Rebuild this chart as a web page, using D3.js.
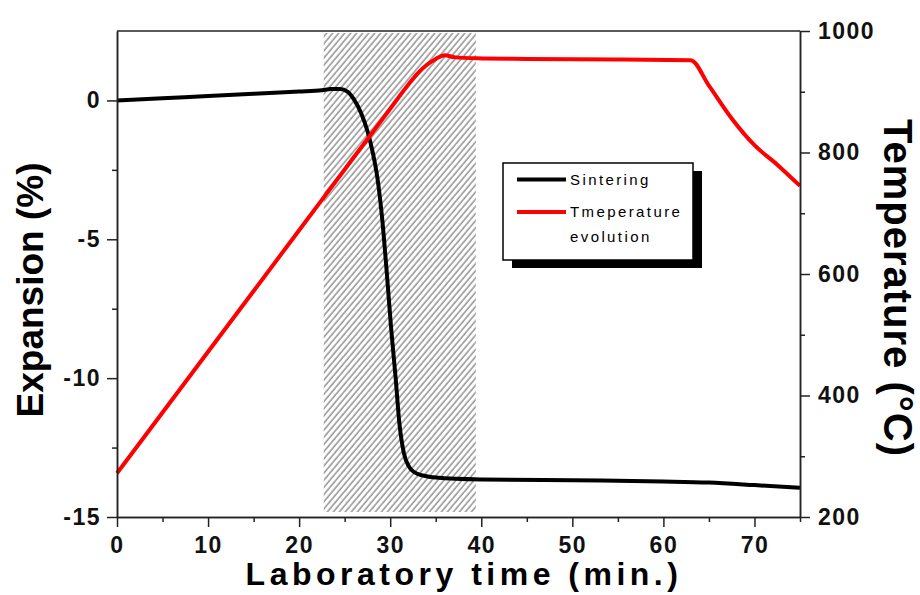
<!DOCTYPE html>
<html>
<head>
<meta charset="utf-8">
<script src="https://cdn.jsdelivr.net/npm/d3@7"></script>
<style>
body{margin:0;background:#fff;}
text{font-family:"Liberation Sans",Arial,sans-serif;}
</style>
</head>
<body>
<svg width="920" height="595"></svg>
<script>
// sintering curve (expansion %)
var expTime = [0, 5, 10, 15, 20, 22.5, 23.5, 24.5, 25.3, 26, 26.8, 27.5, 28.1, 28.6, 29.1, 29.6, 30.1, 30.6, 31, 31.5, 32, 33, 35, 40, 50, 60, 65, 70, 75];
var expVal = [0, 0.08, 0.16, 0.24, 0.32, 0.37, 0.41, 0.41, 0.32, 0.05, -0.45, -1.1, -1.9, -2.8, -4.2, -6.1, -8.2, -10, -11.6, -12.7, -13.15, -13.45, -13.58, -13.65, -13.68, -13.72, -13.76, -13.85, -13.95];
// temperature evolution (°C)
var tempTime = [0, 10, 20, 25, 30, 32, 33, 34, 35, 36, 37, 39.5, 45, 55, 63, 65, 67.5, 70, 72.5, 75];
var tempVal = [272, 472, 672, 772, 872, 912, 930, 944, 954, 960, 957, 955, 954, 953, 952, 910, 856, 812, 780, 745];
// hatched sintering window (min)
var hatchRange = [22.7, 39.4];

var xTicks = [0, 10, 20, 30, 40, 50, 60, 70];
var xMinor = [5, 15, 25, 35, 45, 55, 65, 75];
var yLTicks = [-15, -10, -5, 0];
var yLMinor = [-12.5, -7.5, -2.5];
var yRTicks = [200, 400, 600, 800, 1000];
var yRMinor = [300, 500, 700, 900];

var margin = {left:117, top:31};
var width = 683;
var height = 486;

var svg = d3.select('svg');

var x = d3.scaleLinear().domain([0, 75]).range([0, width]);
var yL = d3.scaleLinear().domain([-15, 2.5]).range([height, 0]);
var yR = d3.scaleLinear().domain([200, 1000]).range([height, 0]);

var plain = function(d){ return String(d); };

var defs = svg.append('defs');
var pat = defs.append('pattern')
  .attr('id', 'hatch')
  .attr('patternUnits', 'userSpaceOnUse')
  .attr('width', 4.6)
  .attr('height', 10)
  .attr('patternTransform', 'rotate(40)');
pat.append('line')
  .attr('x1', 1).attr('y1', 0).attr('x2', 1).attr('y2', 10)
  .attr('stroke', '#444').attr('stroke-width', 0.9);

var g = svg.append('g').attr('transform', 'translate(' + margin.left + ',' + margin.top + ')');

g.append('rect')
  .attr('x', x(hatchRange[0]))
  .attr('y', 2)
  .attr('width', x(hatchRange[1]) - x(hatchRange[0]))
  .attr('height', height - 7)
  .attr('fill', 'url(#hatch)');

var lineExp = d3.line()
  .x(function(d, i){ return x(expTime[i]); })
  .y(function(d){ return yL(d); })
  .curve(d3.curveMonotoneX);

var lineTemp = d3.line()
  .x(function(d, i){ return x(tempTime[i]); })
  .y(function(d){ return yR(d); })
  .curve(d3.curveMonotoneX);

g.append('path')
  .attr('d', lineExp(expVal))
  .attr('fill', 'none')
  .attr('stroke', '#000')
  .attr('stroke-width', 4);

g.append('path')
  .attr('d', lineTemp(tempVal))
  .attr('fill', 'none')
  .attr('stroke', '#ff0000')
  .attr('stroke-width', 4);

function styleAxis(sel){
  sel.selectAll('path,line').attr('stroke', '#222').attr('stroke-width', 1.5);
  sel.selectAll('text')
    .attr('fill', '#111')
    .style('font-size', '23px')
    .style('font-weight', 'bold')
    .style('letter-spacing', '1.5px');
}

// bottom axis
g.append('g')
  .attr('transform', 'translate(0,' + height + ')')
  .call(d3.axisBottom(x).tickValues(xMinor).tickSize(5).tickFormat('').tickSizeOuter(0))
  .call(styleAxis);
g.append('g')
  .attr('transform', 'translate(0,' + height + ')')
  .call(d3.axisBottom(x).tickValues(xTicks).tickSize(10).tickPadding(10).tickFormat(plain).tickSizeOuter(0))
  .call(styleAxis);

// left axis
g.append('g')
  .call(d3.axisLeft(yL).tickValues(yLMinor).tickSize(5).tickFormat('').tickSizeOuter(0))
  .call(styleAxis);
g.append('g')
  .call(d3.axisLeft(yL).tickValues(yLTicks).tickSize(10).tickPadding(6).tickFormat(plain).tickSizeOuter(0))
  .call(styleAxis);

// right axis
g.append('g')
  .attr('transform', 'translate(' + width + ',0)')
  .call(d3.axisRight(yR).tickValues(yRMinor).tickSize(5).tickFormat('').tickSizeOuter(0))
  .call(styleAxis);
g.append('g')
  .attr('transform', 'translate(' + width + ',0)')
  .call(d3.axisRight(yR).tickValues(yRTicks).tickSize(10).tickPadding(8).tickFormat(plain).tickSizeOuter(0))
  .call(styleAxis);

// top frame
g.append('line')
  .attr('x1', 0).attr('x2', width).attr('y1', 0).attr('y2', 0)
  .attr('stroke', '#222').attr('stroke-width', 1.5);

// axis titles
svg.append('text')
  .attr('transform', 'translate(43,290) rotate(-90)')
  .attr('text-anchor', 'middle')
  .style('font-size', '37px')
  .style('font-weight', 'bold')
  .text('Expansion (%)');

svg.append('text')
  .attr('transform', 'translate(884,288) rotate(90)')
  .attr('text-anchor', 'middle')
  .style('font-size', '40px')
  .style('font-weight', 'bold')
  .style('letter-spacing', '1px')
  .text('Temperature (°C)');

svg.append('text')
  .attr('x', 464)
  .attr('y', 585)
  .attr('text-anchor', 'middle')
  .style('font-size', '32px')
  .style('font-weight', 'bold')
  .style('letter-spacing', '4.5px')
  .text('Laboratory time (min.)');

// legend
var leg = svg.append('g');
leg.append('rect')
  .attr('x', 512).attr('y', 171).attr('width', 190).attr('height', 97)
  .attr('fill', '#000');
leg.append('rect')
  .attr('x', 503).attr('y', 163).attr('width', 190).attr('height', 97)
  .attr('fill', '#fff').attr('stroke', '#000').attr('stroke-width', 1.5);
leg.append('line')
  .attr('x1', 517).attr('x2', 566).attr('y1', 179.5).attr('y2', 179.5)
  .attr('stroke', '#000').attr('stroke-width', 4);
leg.append('line')
  .attr('x1', 517).attr('x2', 566).attr('y1', 212).attr('y2', 212)
  .attr('stroke', '#ff0000').attr('stroke-width', 4);
var legText = [['Sintering', 185], ['Tmeperature', 217], ['evolution', 242]];
legText.forEach(function(t){
  leg.append('text')
    .attr('x', 570).attr('y', t[1])
    .style('font-size', '15px')
    .style('letter-spacing', '2.4px')
    .text(t[0]);
});
</script>
</body>
</html>
